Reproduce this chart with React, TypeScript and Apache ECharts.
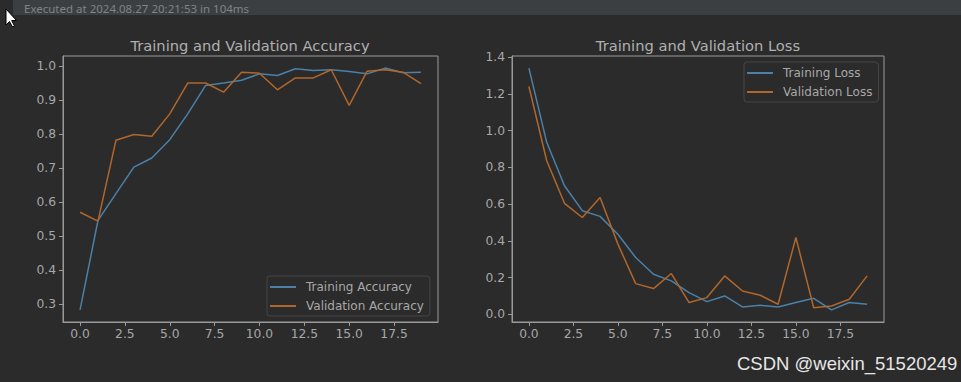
import React, { useEffect, useRef } from "react";
import * as echarts from "echarts";

const epochs = [0, 1, 2, 3, 4, 5, 6, 7, 8, 9, 10, 11, 12, 13, 14, 15, 16, 17, 18, 19];
const trainAcc = [0.282, 0.546, 0.625, 0.703, 0.73, 0.784, 0.86, 0.944, 0.951, 0.959, 0.978, 0.973, 0.993, 0.988, 0.99, 0.985, 0.978, 0.995, 0.981, 0.983];
const valAcc = [0.57, 0.544, 0.782, 0.799, 0.794, 0.86, 0.951, 0.951, 0.924, 0.983, 0.98, 0.931, 0.966, 0.966, 0.99, 0.885, 0.986, 0.99, 0.983, 0.949];
const trainLoss = [1.34, 0.936, 0.7, 0.564, 0.533, 0.436, 0.309, 0.218, 0.182, 0.118, 0.069, 0.1, 0.04, 0.049, 0.04, 0.064, 0.087, 0.024, 0.064, 0.055];
const valLoss = [1.24, 0.836, 0.604, 0.527, 0.636, 0.382, 0.167, 0.14, 0.222, 0.064, 0.091, 0.209, 0.127, 0.104, 0.055, 0.418, 0.036, 0.045, 0.082, 0.209];
const xTicks = [0, 2.5, 5, 7.5, 10, 12.5, 15, 17.5];
const accTicks = [0.3, 0.4, 0.5, 0.6, 0.7, 0.8, 0.9, 1.0];
const lossTicks = [0, 0.2, 0.4, 0.6, 0.8, 1.0, 1.2, 1.4];

const BLUE = "#4b80a8";
const ORANGE = "#b1672b";
const FG = "#a8a8a8";
const SPINE = "#9a9a9a";
const FONT = "DejaVu Sans";
const TICK_FS = 12.3;
const LEGEND_FS = 12;

function pair(vals: number[]) {
  return epochs.map((e, i) => [e, vals[i]]);
}

function mplMin(v: { min: number; max: number }) {
  return v.min - 0.05 * (v.max - v.min);
}
function mplMax(v: { min: number; max: number }) {
  return v.max + 0.05 * (v.max - v.min);
}

function xAxis(gridIndex: number) {
  return {
    type: "value",
    gridIndex,
    min: mplMin,
    max: mplMax,
    axisLine: { show: true, onZero: false, lineStyle: { color: SPINE, width: 1 } },
    axisTick: { show: true, inside: false, length: 4, customValues: xTicks, lineStyle: { color: SPINE } },
    axisLabel: {
      show: true,
      customValues: xTicks,
      formatter: (v: number) => v.toFixed(1),
      color: FG,
      fontFamily: FONT,
      fontSize: TICK_FS,
      margin: 6,
    },
    splitLine: { show: false },
  };
}

function yAxis(gridIndex: number, ticks: number[]) {
  return {
    type: "value",
    gridIndex,
    min: mplMin,
    max: mplMax,
    axisLine: { show: true, onZero: false, lineStyle: { color: SPINE, width: 1 } },
    axisTick: { show: true, inside: false, length: 4, customValues: ticks, lineStyle: { color: SPINE } },
    axisLabel: {
      show: true,
      customValues: ticks,
      formatter: (v: number) => v.toFixed(1),
      color: FG,
      fontFamily: FONT,
      fontSize: TICK_FS,
      margin: 7,
    },
    splitLine: { show: false },
  };
}

function lineSeries(name: string, vals: number[], color: string, idx: number) {
  return {
    type: "line",
    name,
    xAxisIndex: idx,
    yAxisIndex: idx,
    data: pair(vals),
    symbol: "none",
    color,
    lineStyle: { color, width: 1.5 },
  };
}

function legend(names: string[], left: number, top: number) {
  return {
    data: names,
    orient: "vertical",
    left,
    top,
    padding: [4, 6, 3, 3],
    itemWidth: 26,
    itemHeight: 2,
    itemGap: 5,
    icon: "rect",
    backgroundColor: "#2b2b2b",
    borderColor: "#474747",
    borderWidth: 1,
    borderRadius: 3,
    textStyle: { color: FG, fontFamily: FONT, fontSize: LEGEND_FS, lineHeight: 14, padding: [0, 0, 0, 5] },
    selectedMode: false,
  };
}

export default function App() {
  const ref = useRef<HTMLDivElement>(null);
  useEffect(() => {
    document.body.style.margin = "0";
    const chart = echarts.init(ref.current!, undefined, { renderer: "svg" });
    chart.setOption({
      animation: false,
      backgroundColor: "#2b2b2b",
      grid: [
        { left: 63, top: 56, width: 375, height: 266, show: true, borderColor: SPINE, borderWidth: 1, backgroundColor: "transparent" },
        { left: 512, top: 56, width: 372, height: 266, show: true, borderColor: SPINE, borderWidth: 1, backgroundColor: "transparent" },
      ],
      xAxis: [xAxis(0), xAxis(1)],
      yAxis: [yAxis(0, accTicks), yAxis(1, lossTicks)],
      legend: [
        legend(["Training Accuracy", "Validation Accuracy"], 267, 276),
        legend(["Training Loss", "Validation Loss"], 744, 62),
      ],
      series: [
        lineSeries("Training Accuracy", trainAcc, BLUE, 0),
        lineSeries("Validation Accuracy", valAcc, ORANGE, 0),
        lineSeries("Training Loss", trainLoss, BLUE, 1),
        lineSeries("Validation Loss", valLoss, ORANGE, 1),
      ],
      graphic: [
        { type: "rect", shape: { x: 13, y: 0, width: 948, height: 15 }, style: { fill: "#3c3f41" }, silent: true },
        {
          type: "text",
          x: 24,
          y: 8,
          style: {
            text: "Executed at 2024.08.27 20:21:53 in 104ms",
            fill: "#7e8487",
            font: "11.5px 'Noto Sans'",
            textVerticalAlign: "middle",
          },
        },
        {
          type: "polygon",
          shape: { points: [[6, 9], [6, 25], [9.5, 21.5], [12.5, 27], [14.5, 26], [11.7, 20.5], [16.5, 20.5]] },
          style: { fill: "#ffffff", stroke: "#000000", lineWidth: 1 },
        },
        {
          type: "text",
          x: 250,
          y: 45,
          style: { text: "Training and Validation Accuracy", fill: "#b0b0b0", font: `14.7px '${FONT}'`, textAlign: "center", textVerticalAlign: "middle" },
        },
        {
          type: "text",
          x: 698,
          y: 45,
          style: { text: "Training and Validation Loss", fill: "#b0b0b0", font: `14.7px '${FONT}'`, textAlign: "center", textVerticalAlign: "middle" },
        },
        {
          type: "text",
          x: 737,
          y: 363,
          style: { text: "CSDN @weixin_51520249", fill: "#e6e6e6", font: "18.5px 'Liberation Sans'", textVerticalAlign: "middle" },
        },
      ],
    });
    return () => chart.dispose();
  }, []);
  return <div ref={ref} style={{ position: "fixed", left: 0, top: 0, width: 961, height: 382 }} />;
}
